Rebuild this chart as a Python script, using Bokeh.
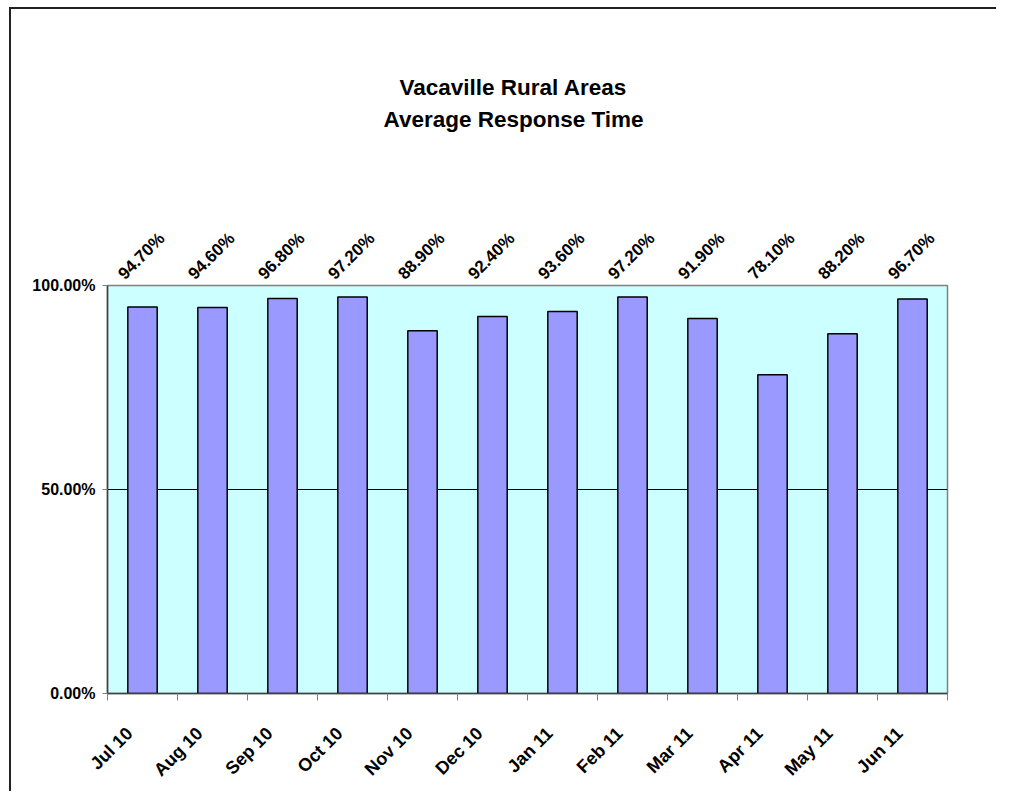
from bokeh.plotting import figure
from bokeh.models import ColumnDataSource, FixedTicker, Range1d, LinearAxis, Title
from bokeh.embed import file_html
from bokeh.resources import INLINE
from math import pi

# ---- data ----
months = ["Jul 10", "Aug 10", "Sep 10", "Oct 10", "Nov 10", "Dec 10",
          "Jan 11", "Feb 11", "Mar 11", "Apr 11", "May 11", "Jun 11"]
response_pct = [94.7, 94.6, 96.8, 97.2, 88.9, 92.4, 93.6, 97.2, 91.9, 78.1, 88.2, 96.7]
y_ticks = [0, 50, 100]

FONT = "Liberation Sans"
n = len(months)
idx = list(range(n))
src = ColumnDataSource(dict(x=idx, top=response_pct))

W, H = 987, 784
p = figure(width=W, height=H, output_backend="svg", toolbar_location=None,
           x_range=Range1d(-0.5, n - 0.5), y_range=Range1d(0, 100),
           x_axis_location=None,
           min_border_left=96, min_border_right=51, min_border_top=276,
           min_border_bottom=100)
p.styles = {"margin-left": "9px", "margin-top": "7px",
            "border-top": "2px solid #222", "border-left": "2px solid #222"}
p.background_fill_color = "#CCFFFF"
p.border_fill_color = "white"
p.outline_line_color = "#808080"
p.outline_line_width = 1.5

p.vbar(x="x", top="top", bottom=0, width=0.42, source=src,
       fill_color="#9999FF", line_color="black", line_width=1.5)

# grid only at 50%
p.xgrid.visible = False
p.ygrid.ticker = FixedTicker(ticks=[50])
p.ygrid.grid_line_color = "black"
p.ygrid.grid_line_width = 1

# x axis: labels near centers, ticks at category boundaries (minor ticks)
dx = 0.186  # label nudge (in category units)
p.extra_x_ranges = {"xlab": Range1d(-0.5 + dx, n - 0.5 + dx),
                    "pct": Range1d(-0.5 + 0.307, n - 0.5 + 0.307)}
xa = LinearAxis(x_range_name="xlab",
                ticker=FixedTicker(ticks=idx, minor_ticks=[i - 0.5 + dx for i in range(n + 1)]),
                major_label_overrides={i: m for i, m in enumerate(months)},
                major_tick_line_color=None,
                minor_tick_in=0, minor_tick_out=7, minor_tick_line_color="#808080",
                axis_line_color="#404040", axis_line_width=1.5,
                major_label_orientation=pi / 4, major_label_standoff=30,
                major_label_text_font=FONT, major_label_text_font_style="bold",
                major_label_text_font_size="18px", major_label_text_color="black")
p.add_layout(xa, "below")

ya = p.yaxis[0]
ya.ticker = FixedTicker(ticks=y_ticks, minor_ticks=[])
ya.major_label_overrides = {t: f"{t:.2f}%" for t in y_ticks}
ya.major_tick_in = 0
ya.major_tick_out = 5
ya.major_tick_line_color = "#808080"
ya.axis_line_color = "#404040"
ya.axis_line_width = 1.5
ya.major_label_standoff = 7
ya.major_label_text_font = FONT
ya.major_label_text_font_style = "bold"
ya.major_label_text_font_size = "16px"
ya.major_label_text_color = "black"

# value labels above the plot area, as a label-only axis
top_ax = LinearAxis(x_range_name="pct",
                    ticker=FixedTicker(ticks=idx, minor_ticks=[]),
                    major_label_overrides={i: f"{v:.2f}%" for i, v in enumerate(response_pct)},
                    axis_line_color=None, major_tick_line_color=None,
                    minor_tick_line_color=None,
                    major_label_orientation=pi / 4, major_label_standoff=3,
                    major_label_text_font=FONT, major_label_text_font_style="bold",
                    major_label_text_font_size="17px", major_label_text_color="black")
p.add_layout(top_ax, "above")

p.add_layout(Title(text="Average Response Time", align="left", offset=276,
                   standoff=175, text_font=FONT, text_font_style="bold",
                   text_font_size="22.5px", text_color="black"), "above")
p.add_layout(Title(text="Vacaville Rural Areas", align="left", offset=292,
                   standoff=-164, text_font=FONT, text_font_style="bold",
                   text_font_size="22.5px", text_color="black"), "above")

open("out.html", "w").write(file_html(p, INLINE))
